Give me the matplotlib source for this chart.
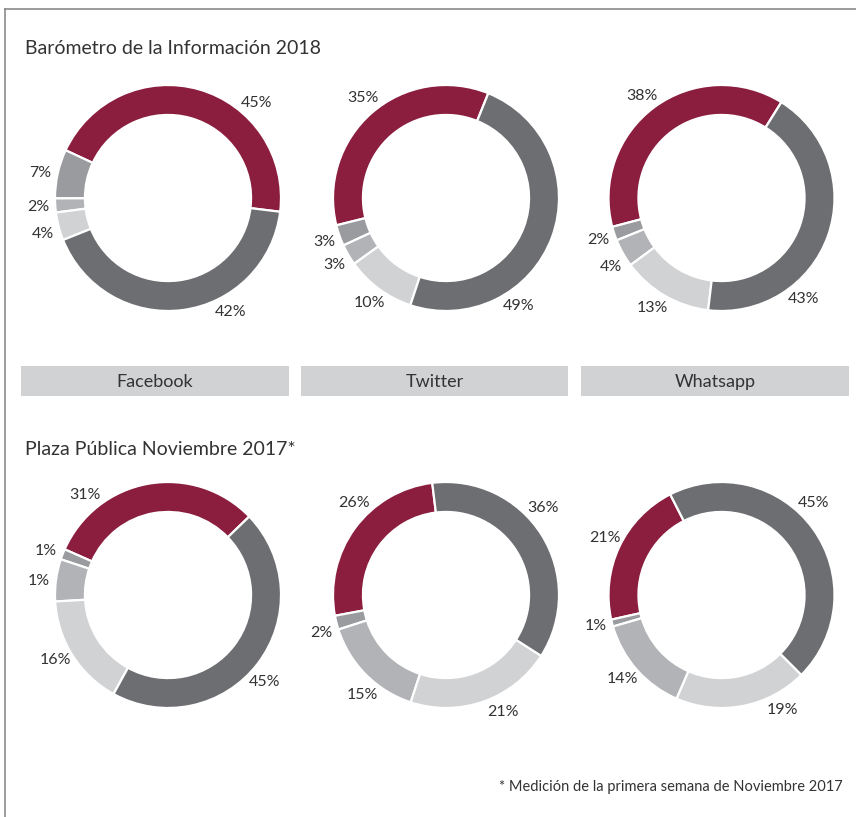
import numpy as np
import matplotlib
matplotlib.use('Agg')
from matplotlib import pyplot as plt
from matplotlib.patches import Rectangle
from matplotlib.lines import Line2D

plt.rcParams['font.family'] = ['Lato', 'DejaVu Sans']

W, H = 856, 817

redes = ['Facebook', 'Twitter', 'Whatsapp']
titulos = ['Barómetro de la Información 2018', 'Plaza Pública Noviembre 2017*']
nota = '* Medición de la primera semana de Noviembre 2017'

# orden (antihorario): rojo, gris medio, gris claro, gris muy claro, gris oscuro
fb_2018 = [45, 7, 2, 4, 42]
tw_2018 = [35, 3, 3, 10, 49]
wa_2018 = [38, 2, 4, 13, 43]
fb_2017 = [31, 1.5, 6, 16, 45]
tw_2017 = [26, 2, 15, 21, 36]
wa_2017 = [21, 1, 14, 19, 45]

et_fb_2018 = ['45%', '7%', '2%', '4%', '42%']
et_tw_2018 = ['35%', '3%', '3%', '10%', '49%']
et_wa_2018 = ['38%', '2%', '4%', '13%', '43%']
et_fb_2017 = ['31%', '1%', '1%', '16%', '45%']
et_tw_2017 = ['26%', '2%', '15%', '21%', '36%']
et_wa_2017 = ['21%', '1%', '14%', '19%', '45%']

colores = ['#8b1e3f', '#9a9b9f', '#b2b3b6', '#d1d2d4', '#6d6e71']

# angulo de inicio y angulos de las etiquetas (grados)
inicio = [-7, 68, 58, 44, 97, 117]
ang_et = [[47, 169, 184, 196, 299],
          [130, 200, 211, 234, 304],
          [128, 199, 212, 238, 309],
          [130, 160, 174, 210, 318],
          [135, 197, 230, 296, 42],
          [154, 194, 220, 298, 45]]

datos = [fb_2018, tw_2018, wa_2018, fb_2017, tw_2017, wa_2017]
etiquetas = [et_fb_2018, et_tw_2018, et_wa_2018, et_fb_2017, et_tw_2017, et_wa_2017]

cx = [168, 446, 721.5]
cy = [198, 595]
R = 113


def fr(x, y):
    return x / W, 1 - y / H


fig = plt.figure(figsize=(W / 100, H / 100), dpi=100)
fig.patch.set_facecolor('white')

# borde
fig.add_artist(Line2D([5 / W, 5 / W], [0, 1 - 9 / H], color='#8a8a8a', lw=1.2))
fig.add_artist(Line2D([5 / W, 1], [1 - 9 / H, 1 - 9 / H], color='#8a8a8a', lw=1.2))

fig.text(*fr(25, 48), titulos[0], fontsize=14, color='#333333', va='center', ha='left')
fig.text(*fr(25, 450), titulos[1], fontsize=14, color='#333333', va='center', ha='left')

k = 0
for fila in range(2):
    for col in range(3):
        x0, y0 = fr(cx[col] - R, cy[fila] + R)
        ax = fig.add_axes([x0, y0, 2 * R / W, 2 * R / H])
        ax.pie(datos[k], colors=colores, startangle=inicio[k], counterclock=True,
               radius=1, wedgeprops=dict(width=0.265, edgecolor='white', linewidth=1.6))
        ax.set_xlim(-1, 1)
        ax.set_ylim(-1, 1)
        ax.set_aspect('equal')
        ax.axis('off')
        for txt, a in zip(etiquetas[k], ang_et[k]):
            t = np.deg2rad(a)
            ax.text(1.15 * np.cos(t), 1.15 * np.sin(t), txt, ha='center', va='center',
                    fontsize=11.5, color='#333333', clip_on=False)
        k += 1

# barras con el nombre de cada red
bx = [(21, 289), (301, 568), (581, 849)]
for (a, b), nombre in zip(bx, redes):
    x0, y0 = fr(a, 396)
    fig.add_artist(Rectangle((x0, y0), (b - a) / W, 30 / H, transform=fig.transFigure,
                             facecolor='#d1d2d4', edgecolor='none'))
    fig.text(*fr((a + b) / 2, 382), nombre, fontsize=13, color='#333333',
             ha='center', va='center')

fig.text(*fr(843, 787), nota, fontsize=10.5, color='#333333', ha='right', va='center')

plt.savefig('out.png', dpi=100, facecolor='white')
